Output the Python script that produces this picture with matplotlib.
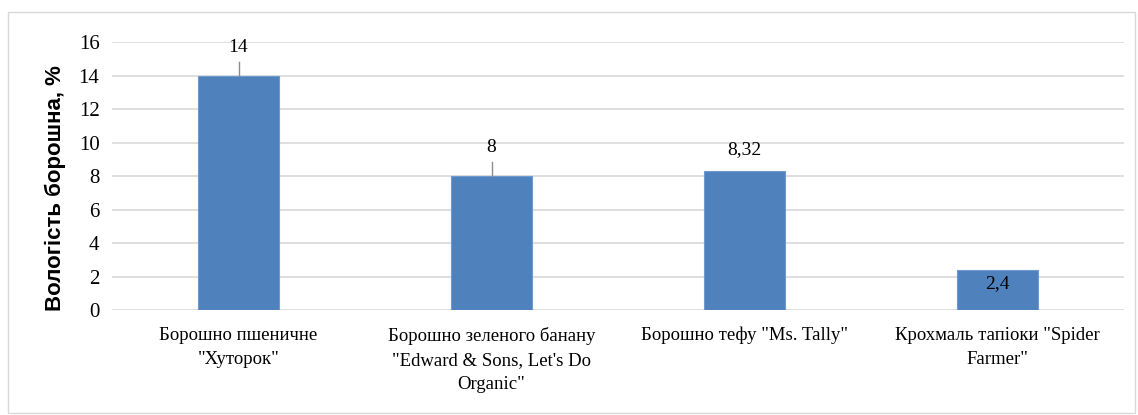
import matplotlib
matplotlib.use("Agg")
import matplotlib.pyplot as plt
from matplotlib.patches import Rectangle

categories = ["Борошно пшеничне\n\"Хуторок\"",
              "Борошно зеленого банану\n\"Edward & Sons, Let's Do\nOrganic\"",
              "Борошно тефу \"Ms. Tally\"",
              "Крохмаль тапіоки \"Spider\nFarmer\""]
values = [14, 8, 8.32, 2.4]
errors_upper = [0.8, 0.85, 0, 0]
labels = ["14", "8", "8,32", "2,4"]
yticks = [0, 2, 4, 6, 8, 10, 12, 14, 16]

fig = plt.figure(figsize=(11.38, 4.15), dpi=100)
fig.patches.append(Rectangle((8/1138, 2/415), 1127/1138, 401/415, transform=fig.transFigure,
                             fill=False, edgecolor="#d9d9d9", linewidth=1))
ax = fig.add_axes([112/1138, 1-310/415, 1012/1138, 268/415])
x = list(range(len(values)))
ax.bar(x, values, width=0.32, color="#4f81bd", edgecolor="#6f9ad0", linewidth=0.8, zorder=3)
for xi, v, e in zip(x, values, errors_upper):
    if e > 0:
        ax.plot([xi, xi], [v, v+e], color="#8c8c8c", linewidth=1, zorder=4)
serif = ["Liberation Serif", "DejaVu Serif"]
for xi, v, e, lab in zip(x, values, errors_upper, labels):
    if v < 3:
        ax.text(xi, v - 0.3, lab, ha="center", va="top", fontsize=14, family=serif, zorder=5)
    else:
        ax.text(xi, v + max(e, 0.4) + 0.35, lab, ha="center", va="bottom", fontsize=14, family=serif, zorder=5)
ax.set_xlim(-0.5, 3.5)
ax.set_ylim(0, 16)
ax.set_yticks(yticks)
ax.set_yticklabels([str(t) for t in yticks], family=serif, fontsize=15)
ax.set_xticks(x)
ax.set_xticklabels(categories, family=serif, fontsize=13.5, linespacing=1.55, va="top")
ax.tick_params(axis="y", length=0, pad=9)
ax.tick_params(axis="x", length=0, pad=12)
ax.grid(axis="y", color="#d9d9d9", linewidth=1.2, zorder=0)
for s in ax.spines.values():
    s.set_visible(False)
ax.set_ylabel("Вологість борошна, %", family=["Liberation Sans", "DejaVu Sans"], fontsize=16,
              fontweight="bold")
ax.yaxis.set_label_coords(-0.045, 0.455)
fig.savefig("out.png", dpi=100)
